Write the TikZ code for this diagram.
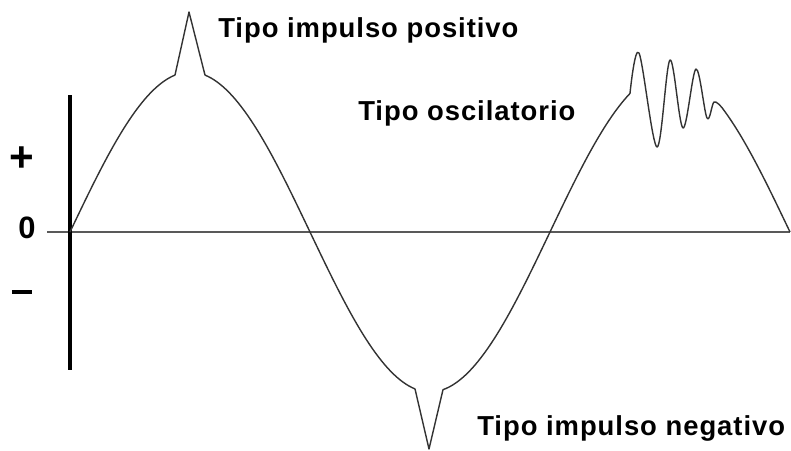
\documentclass[tikz,border=0pt]{standalone}
\usepackage{fontspec}
\newfontfamily\signfont[LetterSpace=3.5]{Liberation Sans}
\usepackage{tikz}
\tikzset{
  wave/.style={line width=1.0pt, draw=black!80, line join=round},
  zeroaxis/.style={line width=1.0pt, draw=black!65},
  valueaxis/.style={line width=2.2pt, draw=black},
  tipolabel/.style={font=\signfont\bfseries\fontsize{19.5}{20}\selectfont, anchor=base west, inner sep=0pt},
  signlabel/.style={font=\signfont\bfseries\fontsize{22}{23}\selectfont, inner sep=0pt},
}

\begin{document}
\begin{tikzpicture}[x=0.025cm, y=0.025cm]
\useasboundingbox (0,0) rectangle (791,450);
\coordinate (zeroleft) at (47,218);
\coordinate (zeroright) at (790,218);
\coordinate (axtop) at (70,355);
\coordinate (axbottom) at (70,80);
\draw[zeroaxis] (zeroleft) -- (zeroright);
\draw[valueaxis] (axtop) -- (axbottom);
\node[signlabel, font=\signfont\bfseries\fontsize{30}{30}\selectfont] (plus) at (22,291) {+};
\node[signlabel, anchor=base] (zero) at (27,212) {0};
\node[signlabel] (minus) at (22,158) {\rule{0.5cm}{2.6pt}};
\draw[wave] plot[domain=70:175, samples=40] (\x,{218+160*sin(0.75*(\x-70))})
  -- (189,438)
  -- plot[domain=205:415, samples=70] (\x,{218+160*sin(0.75*(\x-70))})
  -- (429,1)
  -- plot[domain=443:630, samples=60] (\x,{218+160*sin(0.75*(\x-70))})
  -- plot[smooth, tension=0.55] coordinates {(630,356.6) (639,397) (657,303) (670,390) (683,322) (696,381) (707,332) (714,348) (722,342.3)}
  -- plot[domain=722:790, samples=25] (\x,{218+160*sin(0.75*(\x-70))});
\node[tipolabel] (positivo) at (218,413) {Tipo impulso positivo};
\node[tipolabel] (oscilatorio) at (358,330) {Tipo oscilatorio};
\node[tipolabel] (negativo) at (477,15) {Tipo impulso negativo};
\end{tikzpicture}
\end{document}
